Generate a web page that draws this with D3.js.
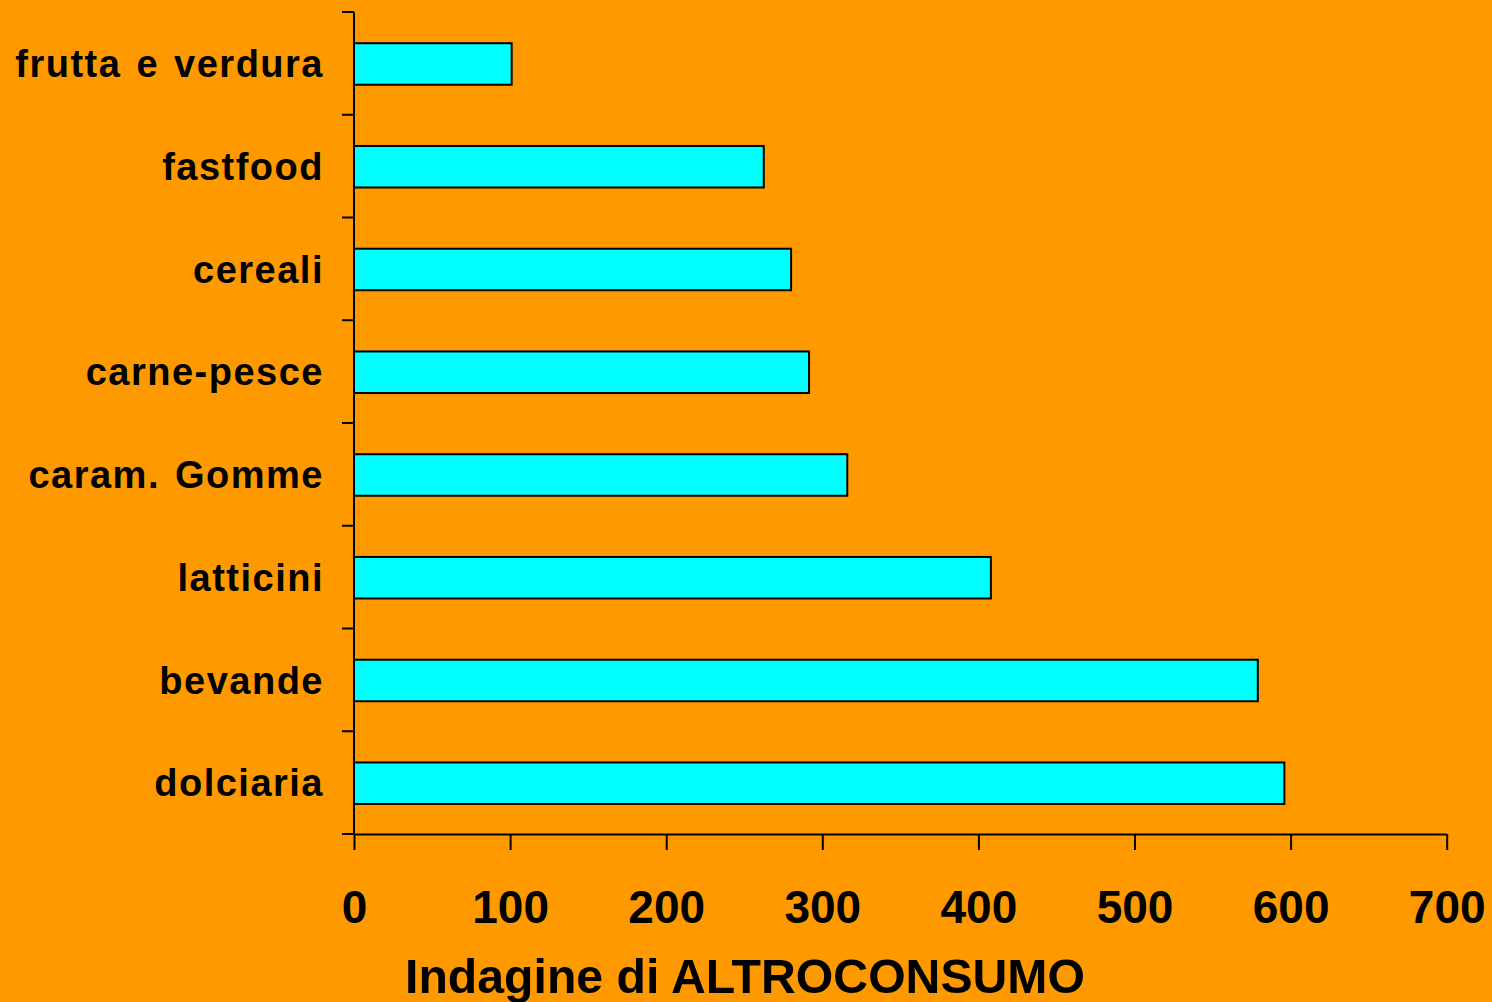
<!DOCTYPE html>
<html>
<head>
<meta charset="utf-8">
<script src="https://cdn.jsdelivr.net/npm/d3@7"></script>
<style>
  html, body { margin: 0; padding: 0; background: #FF9900; }
  svg { display: block; }
</style>
</head>
<body>
<svg id="chart" width="1492" height="1002"></svg>
<script>
const categories = ["frutta e verdura", "fastfood", "cereali", "carne-pesce", "caram. Gomme", "latticini", "bevande", "dolciaria"];
const values = [101, 262.5, 280, 291.5, 316, 408, 579, 596];
const xTicks = [0, 100, 200, 300, 400, 500, 600, 700];
const xTitle = "Indagine di ALTROCONSUMO";

(function () {
const svg = d3.select("#chart");
const W = 1492, H = 1002;
svg.append("rect").attr("width", W).attr("height", H).attr("fill", "#FF9900");

const mLeft = 354, mRight = 1446.7, mTop = 12, mBottom = 834;
const x = d3.scaleLinear().domain([0, 700]).range([mLeft, mRight]);
const y = d3.scaleBand().domain(categories).range([mTop, mBottom]).paddingInner(0.596).paddingOuter(0.298).align(0.5);

const font = "'Liberation Sans', Arial, sans-serif";

// bars
svg.append("g").selectAll("rect").data(categories).join("rect")
  .attr("x", x(0))
  .attr("y", d => y(d) + 0.6)
  .attr("width", (d, i) => x(values[i]) - x(0))
  .attr("height", y.bandwidth())
  .attr("fill", "#00FFFF")
  .attr("stroke", "#000")
  .attr("stroke-width", 2);

// y axis line and ticks between categories
const step = (mBottom - mTop) / categories.length;
const yTickPos = d3.range(categories.length + 1).map(i => mTop + i * step);
svg.append("line").attr("x1", mLeft).attr("x2", mLeft).attr("y1", mTop).attr("y2", mBottom)
  .attr("stroke", "#000").attr("stroke-width", 2);
svg.append("g").selectAll("line").data(yTickPos).join("line")
  .attr("x1", mLeft - 12).attr("x2", mLeft).attr("y1", d => d).attr("y2", d => d)
  .attr("stroke", "#000").attr("stroke-width", 2);

// category labels
svg.append("g").selectAll("text").data(categories).join("text")
  .attr("x", 324)
  .attr("y", d => y(d) + y.bandwidth() / 2)
  .attr("dy", "0.36em")
  .attr("text-anchor", "end")
  .attr("font-family", font)
  .attr("font-weight", "bold")
  .attr("font-size", 38)
  .attr("letter-spacing", 1.5)
  .attr("word-spacing", 3)
  .attr("fill", "#000")
  .text(d => d);

// x axis
const xAxis = d3.axisBottom(x).tickValues(xTicks).tickSize(16).tickPadding(40).tickFormat(d3.format("d"));
const gx = svg.append("g").attr("transform", `translate(0,${mBottom})`).call(xAxis);
gx.select(".domain").attr("d", `M${mLeft},0.5H${mRight}`).attr("stroke", "#000").attr("stroke-width", 2);
gx.selectAll(".tick line").attr("stroke", "#000").attr("stroke-width", 2);
gx.selectAll(".tick text")
  .attr("font-family", font)
  .attr("font-weight", "bold")
  .attr("font-size", 46)
  .attr("fill", "#000");

// x title
svg.append("text")
  .attr("x", 745)
  .attr("y", 993)
  .attr("text-anchor", "middle")
  .attr("font-family", font)
  .attr("font-weight", "bold")
  .attr("font-size", 48)
  .attr("textLength", 680)
  .attr("lengthAdjust", "spacingAndGlyphs")
  .attr("fill", "#000")
  .text(xTitle);
})();
</script>
</body>
</html>
